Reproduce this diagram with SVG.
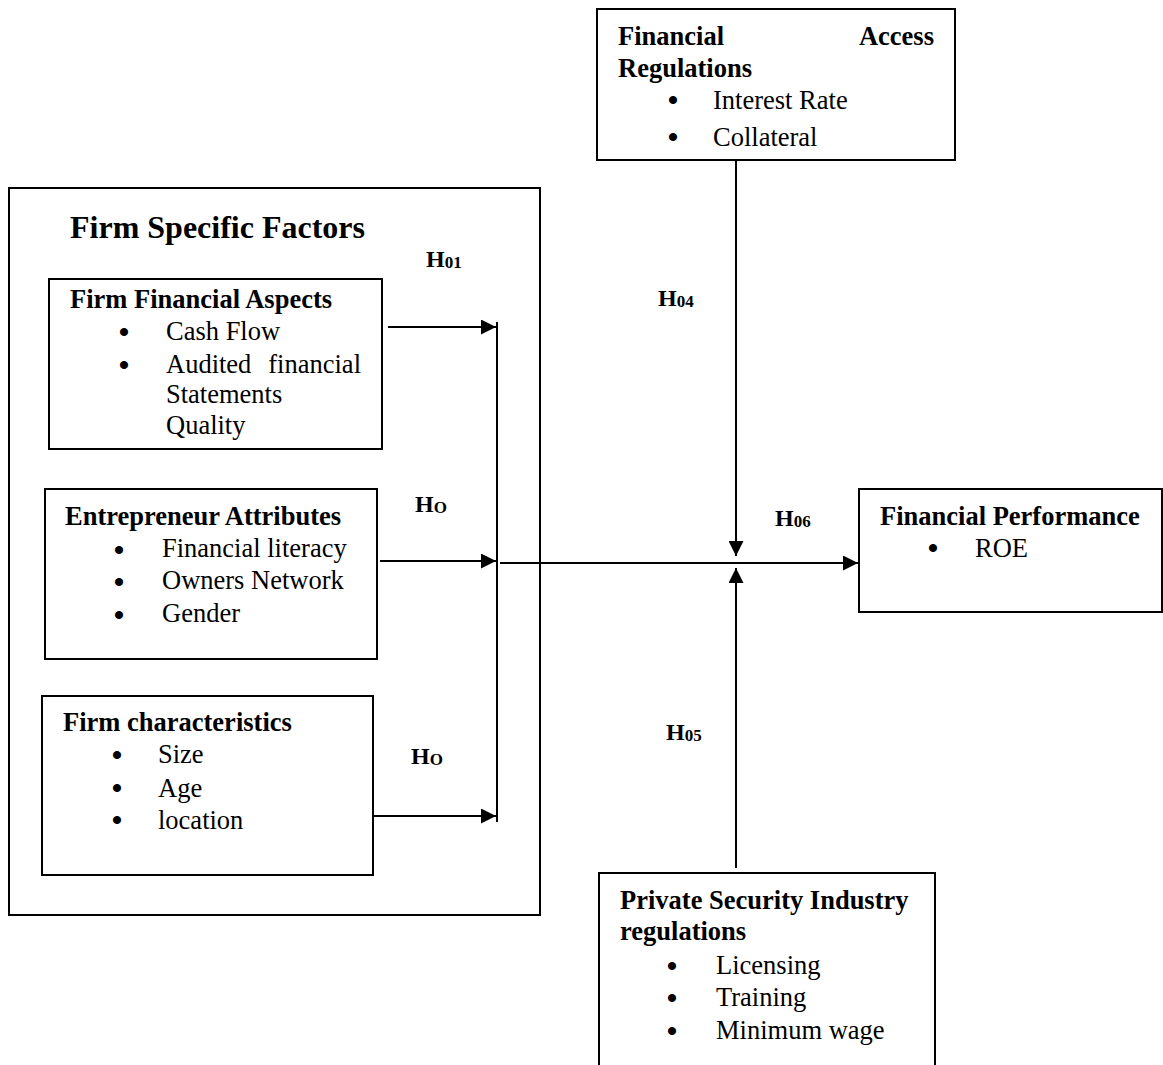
<svg xmlns="http://www.w3.org/2000/svg" width="1163" height="1065" viewBox="0 0 1163 1065">
<style>
.box{fill:#fff;stroke:#000;stroke-width:2}
.t{font-family:"Liberation Serif","Times New Roman",serif;font-size:26.5px;fill:#000}
.b{font-weight:bold}
.bu{font-family:"Liberation Serif","Times New Roman",serif;font-size:30px;font-weight:bold;fill:#000;text-anchor:middle}
.h{font-family:"Liberation Serif","Times New Roman",serif;font-weight:bold;font-size:24px;fill:#000}
.s{font-size:17px}
.ln{stroke:#000;stroke-width:2;fill:none}
</style>
<defs>
<marker id="ah" viewBox="0 0 10 10" refX="10" refY="5" markerWidth="15" markerHeight="15" markerUnits="userSpaceOnUse" orient="auto">
<path d="M0,0 L10,5 L0,10 z" fill="#000"/>
</marker>
</defs>
<rect width="1163" height="1065" fill="#fff"/>

<g id="firm-specific-factors">
<rect class="box" x="9" y="188" width="531" height="727"/>
<text class="t b" x="70" y="238" style="font-size:32px">Firm Specific Factors</text>
</g>

<g id="firm-financial-aspects">
<rect class="box" x="49" y="279" width="333" height="170"/>
<text class="t b" x="70" y="308">Firm Financial Aspects</text>
<text class="bu" x="124" y="342">•</text><text class="t" x="166" y="340">Cash Flow</text>
<text class="bu" x="124" y="375">•</text><text class="t" x="166" y="373">Audited</text><text class="t" x="361" y="373" text-anchor="end">financial</text>
<text class="t" x="166" y="403">Statements</text>
<text class="t" x="166" y="434">Quality</text>
</g>

<g id="entrepreneur-attributes">
<rect class="box" x="45" y="489" width="332" height="170"/>
<text class="t b" x="65" y="525">Entrepreneur Attributes</text>
<text class="bu" x="119" y="560">•</text><text class="t" x="162" y="557">Financial literacy</text>
<text class="bu" x="119" y="592">•</text><text class="t" x="162" y="589">Owners Network</text>
<text class="bu" x="119" y="625">•</text><text class="t" x="162" y="622">Gender</text>
</g>

<g id="firm-characteristics">
<rect class="box" x="42" y="696" width="331" height="179"/>
<text class="t b" x="63" y="731">Firm characteristics</text>
<text class="bu" x="117" y="765">•</text><text class="t" x="158" y="763">Size</text>
<text class="bu" x="117" y="798">•</text><text class="t" x="158" y="797">Age</text>
<text class="bu" x="117" y="830">•</text><text class="t" x="158" y="829">location</text>
</g>

<g id="financial-access-regulations">
<rect class="box" x="597" y="9" width="358" height="151"/>
<text class="t b" x="618" y="45">Financial</text>
<text class="t b" x="934" y="45" text-anchor="end">Access</text>
<text class="t b" x="618" y="77">Regulations</text>
<text class="bu" x="673" y="110">•</text><text class="t" x="713" y="109">Interest Rate</text>
<text class="bu" x="673" y="147">•</text><text class="t" x="713" y="146">Collateral</text>
</g>

<g id="financial-performance">
<rect class="box" x="859" y="489" width="303" height="123"/>
<text class="t b" x="880" y="525">Financial Performance</text>
<text class="bu" x="933" y="558">•</text><text class="t" x="975" y="557">ROE</text>
</g>

<g id="private-security-regulations">
<rect class="box" x="599" y="873" width="336" height="200"/>
<text class="t b" x="620" y="909">Private Security Industry</text>
<text class="t b" x="620" y="940">regulations</text>
<text class="bu" x="672" y="976">•</text><text class="t" x="716" y="974">Licensing</text>
<text class="bu" x="672" y="1008">•</text><text class="t" x="716" y="1006">Training</text>
<text class="bu" x="672" y="1041">•</text><text class="t" x="716" y="1039">Minimum wage</text>
</g>

<g id="connectors">
<line class="ln" x1="497" y1="322" x2="497" y2="822"/>
<line class="ln" x1="388" y1="327" x2="496" y2="327" marker-end="url(#ah)"/>
<line class="ln" x1="380" y1="561" x2="496" y2="561" marker-end="url(#ah)"/>
<line class="ln" x1="373" y1="816" x2="496" y2="816" marker-end="url(#ah)"/>
<line class="ln" x1="500" y1="563" x2="858" y2="563" marker-end="url(#ah)"/>
<line class="ln" x1="736" y1="160" x2="736" y2="556" marker-end="url(#ah)"/>
<line class="ln" x1="736" y1="868" x2="736" y2="568" marker-end="url(#ah)"/>
</g>

<g id="labels">
<text class="h" x="426" y="267">H<tspan class="s" dy="1">01</tspan></text>
<text class="h" x="658" y="306">H<tspan class="s" dy="1">04</tspan></text>
<text class="h" x="415" y="512">H<tspan class="s" dy="1">O</tspan></text>
<text class="h" x="775" y="526">H<tspan class="s" dy="1">06</tspan></text>
<text class="h" x="411" y="764">H<tspan class="s" dy="1">O</tspan></text>
<text class="h" x="666" y="740">H<tspan class="s" dy="1">05</tspan></text>
</g>
</svg>
